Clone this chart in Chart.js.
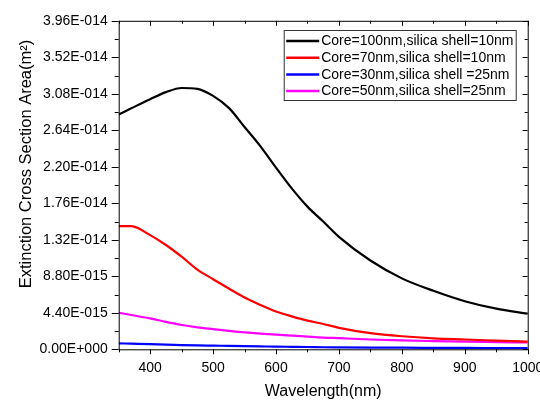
<!DOCTYPE html>
<html lang="en">
<head>
  <meta charset="UTF-8">
  <title>Extinction Cross Section</title>
  <script src="https://cdn.jsdelivr.net/npm/chart.js"></script>
  <style>
    body { margin: 0; background: #fff; }
    canvas { display: block; }
  </style>
</head>
<body>
  <canvas id="extChart" width="540" height="401"></canvas>

  <script>
    // wavelength (nm) and extinction cross sections (m^2)
    const wavelength = [350, 370, 400, 425, 450, 475, 500, 525, 550, 575, 600, 625, 650, 675, 700, 750, 800, 850, 900, 950, 1000];
    const core100 = [2.83e-14, 2.905e-14, 3.015e-14, 3.10e-14, 3.15e-14, 3.14e-14, 3.055e-14, 2.91e-14, 2.68e-14, 2.45e-14, 2.19e-14, 1.94e-14, 1.72e-14, 1.54e-14, 1.355e-14, 1.07e-14, 8.55e-15, 7.05e-15, 5.8e-15, 4.9e-15, 4.3e-15];
    const core70 = [1.486e-14, 1.485e-14, 1.376e-14, 1.257e-14, 1.116e-14, 9.6e-15, 8.45e-15, 7.33e-15, 6.25e-15, 5.35e-15, 4.55e-15, 3.97e-15, 3.45e-15, 3.05e-15, 2.59e-15, 1.95e-15, 1.57e-15, 1.32e-15, 1.18e-15, 1.05e-15, 9.2e-16];
    const core30 = [7.2e-16, 6.8e-16, 6.2e-16, 5.6e-16, 5.1e-16, 4.7e-16, 4.4e-16, 4.1e-16, 3.8e-16, 3.5e-16, 3.2e-16, 3.0e-16, 2.8e-16, 2.5e-16, 2.35e-16, 2.1e-16, 1.9e-16, 1.75e-16, 1.6e-16, 1.5e-16, 1.4e-16];
    const core50 = [4.41e-15, 4.13e-15, 3.72e-15, 3.3e-15, 2.93e-15, 2.65e-15, 2.43e-15, 2.22e-15, 2.03e-15, 1.88e-15, 1.76e-15, 1.66e-15, 1.53e-15, 1.41e-15, 1.34e-15, 1.18e-15, 1.07e-15, 9.9e-16, 9.2e-16, 8.7e-16, 8.2e-16];

    const seriesLabels = [
      'Core=100nm,silica shell=10nm',
      'Core=70nm,silica shell=10nm',
      'Core=30nm,silica shell =25nm',
      'Core=50nm,silica shell=25nm'
    ];
    const seriesColors = ['#000000', '#ff0000', '#0000ff', '#ff00ff'];

    const xTicks = [400, 500, 600, 700, 800, 900, 1000];
    const xAllTicks = [350, 400, 450, 500, 550, 600, 650, 700, 750, 800, 850, 900, 950, 1000];
    const yTicks = [0, 4.4e-15, 8.8e-15, 1.32e-14, 1.76e-14, 2.2e-14, 2.64e-14, 3.08e-14, 3.52e-14, 3.96e-14];
    const yAllTicks = [0, 2.2e-15, 4.4e-15, 6.6e-15, 8.8e-15, 1.1e-14, 1.32e-14, 1.54e-14, 1.76e-14, 1.98e-14, 2.2e-14, 2.42e-14, 2.64e-14, 2.86e-14, 3.08e-14, 3.3e-14, 3.52e-14, 3.74e-14, 3.96e-14];
    const yTitle = 'Extinction Cross Section Area(m²)';

    const FONT = 'Liberation Sans, Arial, sans-serif';

    // Origin style exponent: 3.96E-014
    function originExp(v) {
      const parts = v.toExponential(2).split('e');
      const n = parseInt(parts[1], 10);
      return parts[0] + 'E' + (n < 0 ? '-' : '+') + String(Math.abs(n)).padStart(3, '0');
    }

    // frame + inside/outside ticks + legend box + y title
    const framePlugin = {
      id: 'frame',
      afterDraw(chart) {
        const ctx = chart.ctx;
        const a = chart.chartArea;
        const xs = chart.scales.x, ys = chart.scales.y;
        ctx.save();
        ctx.strokeStyle = '#000';
        ctx.lineWidth = 1;
        ctx.strokeRect(a.left + 0.5, a.top + 0.5, a.right - a.left, a.bottom - a.top);
        ctx.beginPath();
        xAllTicks.forEach(v => {
          const x = Math.round(xs.getPixelForValue(v)) + 0.5;
          const major = v % 100 === 0;
          ctx.moveTo(x, a.bottom); ctx.lineTo(x, a.bottom + (major ? 5 : 3));
          ctx.moveTo(x, a.top); ctx.lineTo(x, a.top + (major ? 5 : 3));
        });
        yAllTicks.forEach((v, i) => {
          const y = Math.round(ys.getPixelForValue(v)) + 0.5;
          const major = i % 2 === 0;
          ctx.moveTo(a.left, y); ctx.lineTo(a.left - (major ? 7 : 4), y);
          ctx.moveTo(a.right, y); ctx.lineTo(a.right - (major ? 5 : 3), y);
        });
        ctx.stroke();

        // y title, sits a bit above the middle like the original
        ctx.save();
        ctx.translate(26, 164);
        ctx.rotate(-Math.PI / 2);
        ctx.font = '16.5px ' + FONT;
        ctx.fillStyle = '#000';
        ctx.textAlign = 'center';
        ctx.textBaseline = 'middle';
        ctx.fillText(yTitle, 0, 0);
        ctx.restore();

        // legend
        const bx = a.right - 243.5, by = 30.5, bw = 232, bh = 70;
        ctx.strokeStyle = '#333';
        ctx.strokeRect(bx, by, bw, bh);
        ctx.font = '14px ' + FONT;
        ctx.textBaseline = 'middle';
        ctx.textAlign = 'left';
        chart.data.datasets.forEach((ds, i) => {
          const y = 41 + i * 16.7;
          ctx.strokeStyle = ds.borderColor;
          ctx.lineWidth = 2.5;
          ctx.beginPath();
          ctx.moveTo(bx + 2, y); ctx.lineTo(bx + 35, y);
          ctx.stroke();
          ctx.fillStyle = '#000';
          ctx.fillText(ds.label, bx + 37, y + 0.5);
        });
        ctx.restore();
      }
    };

    new Chart(document.getElementById('extChart'), {
      type: 'line',
      data: {
        labels: wavelength,
        datasets: [core100, core70, core30, core50].map((vals, i) => ({
          label: seriesLabels[i],
          data: vals.map((v, j) => ({ x: wavelength[j], y: v })),
          borderColor: seriesColors[i],
          borderWidth: 2.2,
          pointRadius: 0,
          cubicInterpolationMode: 'monotone',
          fill: false
        }))
      },
      options: {
        responsive: false,
        animation: false,
        devicePixelRatio: 1,
        layout: { padding: { left: 0, top: 20.8, right: 12.3, bottom: 0 } },
        plugins: { legend: { display: false }, tooltip: { enabled: false } },
        scales: {
          x: {
            type: 'linear',
            min: 350,
            max: 1000,
            grid: { display: false, drawTicks: false },
            border: { display: false },
            afterBuildTicks: s => { s.ticks = xTicks.map(v => ({ value: v })); },
            afterFit: s => { s.height = 51.7; s.paddingLeft = 0; s.paddingRight = 0; },
            ticks: { padding: 10, color: '#000', font: { family: FONT, size: 14 }, maxRotation: 0, callback: v => String(v) },
            title: {
              display: true,
              text: 'Wavelength(nm)',
              color: '#000',
              font: { family: FONT, size: 16 },
              padding: { top: 0, bottom: 0 }
            }
          },
          y: {
            type: 'linear',
            min: 0,
            max: 3.96e-14,
            grid: { display: false, drawTicks: false },
            border: { display: false },
            afterBuildTicks: s => { s.ticks = yTicks.map(v => ({ value: v })); },
            afterFit: s => { s.width = 118.7; },
            ticks: {
              padding: 11,
              color: '#000',
              font: { family: FONT, size: 14 },
              callback: v => originExp(v)
            }
          }
        }
      },
      plugins: [framePlugin]
    });
  </script>
</body>
</html>
